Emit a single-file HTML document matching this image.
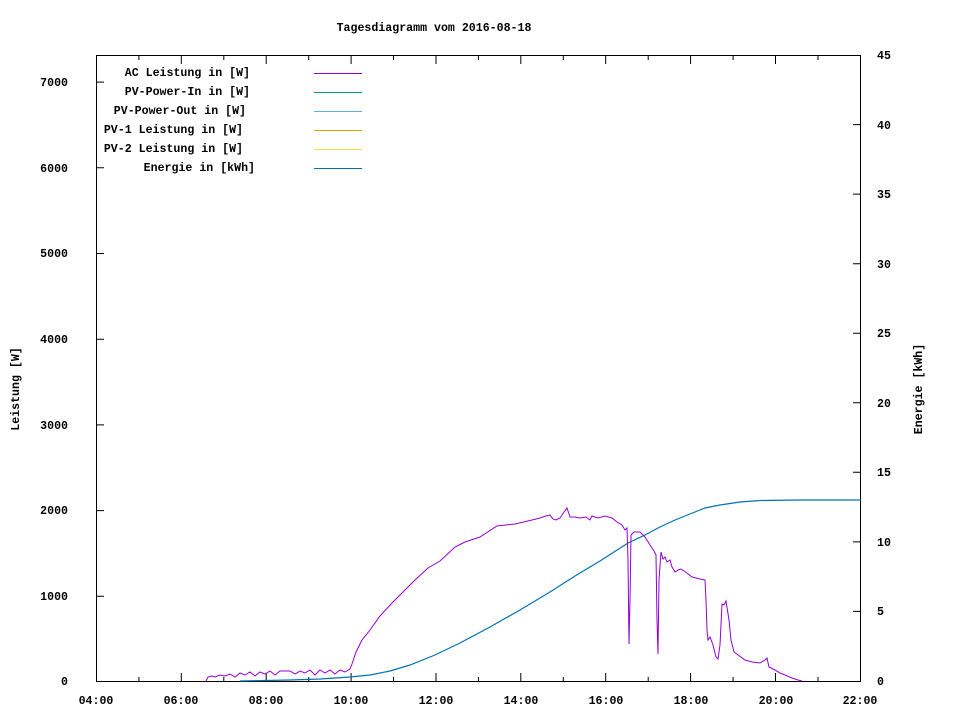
<!DOCTYPE html>
<html><head><meta charset="utf-8"><style>
body{margin:0;background:#fff}
svg text{font-family:"Liberation Mono","DejaVu Sans Mono",monospace;font-size:11.6px;font-weight:bold;fill:#000}
</style></head><body>
<svg width="960" height="720" viewBox="0 0 960 720" xmlns="http://www.w3.org/2000/svg">
<rect width="960" height="720" fill="#fff"/>
<text x="434" y="31" text-anchor="middle">Tagesdiagramm vom 2016-08-18</text>
<g stroke="#000" stroke-width="1" fill="none">
<rect x="96.5" y="55.5" width="764" height="626"/>
<path d="M96 596.3h8M96 510.6h8M96 424.9h8M96 339.2h8M96 253.5h8M96 167.8h8M96 82.1h8"/>
<path d="M861 611.4h-8M861 541.9h-8M861 472.3h-8M861 402.8h-8M861 333.2h-8M861 263.7h-8M861 194.1h-8M861 124.6h-8"/>
<path d="M181.3 681v-8M266.2 681v-8M351.1 681v-8M436 681v-8M520.8 681v-8M605.7 681v-8M690.6 681v-8M775.5 681v-8
M181.3 56v8M266.2 56v8M351.1 56v8M436 56v8M520.8 56v8M605.7 56v8M690.6 56v8M775.5 56v8"/>
<path d="M138.9 681v-4M223.8 681v-4M308.7 681v-4M393.5 681v-4M478.4 681v-4M563.3 681v-4M648.2 681v-4M733.1 681v-4M818 681v-4
M138.9 56v4M223.8 56v4M308.7 56v4M393.5 56v4M478.4 56v4M563.3 56v4M648.2 56v4M733.1 56v4M818 56v4"/>
</g>
<g text-anchor="end">
<text x="68" y="685">0</text><text x="68" y="600">1000</text><text x="68" y="514">2000</text><text x="68" y="429">3000</text><text x="68" y="343">4000</text><text x="68" y="257">5000</text><text x="68" y="172">6000</text><text x="68" y="86">7000</text>
</g>
<g text-anchor="start">
<text x="877" y="685">0</text><text x="877" y="615">5</text><text x="877" y="546">10</text><text x="877" y="476">15</text><text x="877" y="407">20</text><text x="877" y="337">25</text><text x="877" y="268">30</text><text x="877" y="198">35</text><text x="877" y="129">40</text><text x="877" y="59">45</text>
</g>
<g text-anchor="middle">
<text x="96" y="704">04:00</text><text x="181" y="704">06:00</text><text x="266" y="704">08:00</text><text x="351" y="704">10:00</text><text x="436" y="704">12:00</text><text x="521" y="704">14:00</text><text x="606" y="704">16:00</text><text x="691" y="704">18:00</text><text x="776" y="704">20:00</text><text x="860" y="704">22:00</text>
</g>
<text transform="translate(19,389) rotate(-90)" text-anchor="middle">Leistung [W]</text>
<text transform="translate(922,389) rotate(-90)" text-anchor="middle">Energie [kWh]</text>
<g text-anchor="end">
<text x="250" y="76">AC Leistung in [W]</text>
<text x="250" y="95">PV-Power-In in [W]</text>
<text x="246" y="114">PV-Power-Out in [W]</text>
<text x="243" y="133">PV-1 Leistung in [W]</text>
<text x="243" y="152">PV-2 Leistung in [W]</text>
<text x="255" y="171">Energie in [kWh]</text>
</g>
<g stroke-width="1">
<path d="M314 73.5h48" stroke="#9400d3"/>
<path d="M314 92.5h48" stroke="#009e73"/>
<path d="M314 111.5h48" stroke="#56b4e9"/>
<path d="M314 130.5h48" stroke="#e69f00"/>
<path d="M314 149.5h48" stroke="#f0e442"/>
<path d="M314 168.5h48" stroke="#0072b2"/>
</g>
<polyline fill="none" stroke="#0072b2" stroke-width="1.2" points="240,681 290,680 320,679 350,677 370,675 390,671 410,665 435,655 460,643 490,627 520,610 550,592 575,576 600,561 628,543 645,535 660,527 675,520 690,514 705,508 720,505 740,502 760,500.5 800,500 861,500"/>
<polyline fill="none" stroke="#9400d3" stroke-width="1" points="206,681 208,677 212,676 215,677 220,675 225,676 230,674 235,677 240,673 245,675 250,672 255,676 260,672 265,674 270,671 275,675 280,671 290,671 295,674 300,671 305,673 310,670 315,675 320,670 325,673 330,670 335,674 340,670 345,672 350,669 352,664 356,652 362,640 370,630 380,616 392,603 405,590 415,580 428,568 440,561 455,547 465,542 480,537 497,526 515,524 528,521 540,518 546,516 550,515 553,519 556,520 560,518 564,512 567,508 570,517 575,517 580,518 586,517 590,520 592,516 598,518 605,516 612,518 617,522 622,525 625,530 627,528 628,560 629,644 630,600 631,535 634,532 640,532 645,537 650,545 654,551 656,555 657,620 658,654 659,580 661,552 663,559 665,557 667,562 670,560 672,567 675,572 678,570 681,569 687,573 692,577 700,579 705,580 706,600 707,630 708,640 710,637 713,645 716,657 718,659 720,645 722,604 724,605 726,601 729,620 731,640 734,652 745,660 752,662 760,663 765,660 767,658 769,667 775,670 780,673 785,675 792,678 798,680 802,681"/>
</svg>
</body></html>
